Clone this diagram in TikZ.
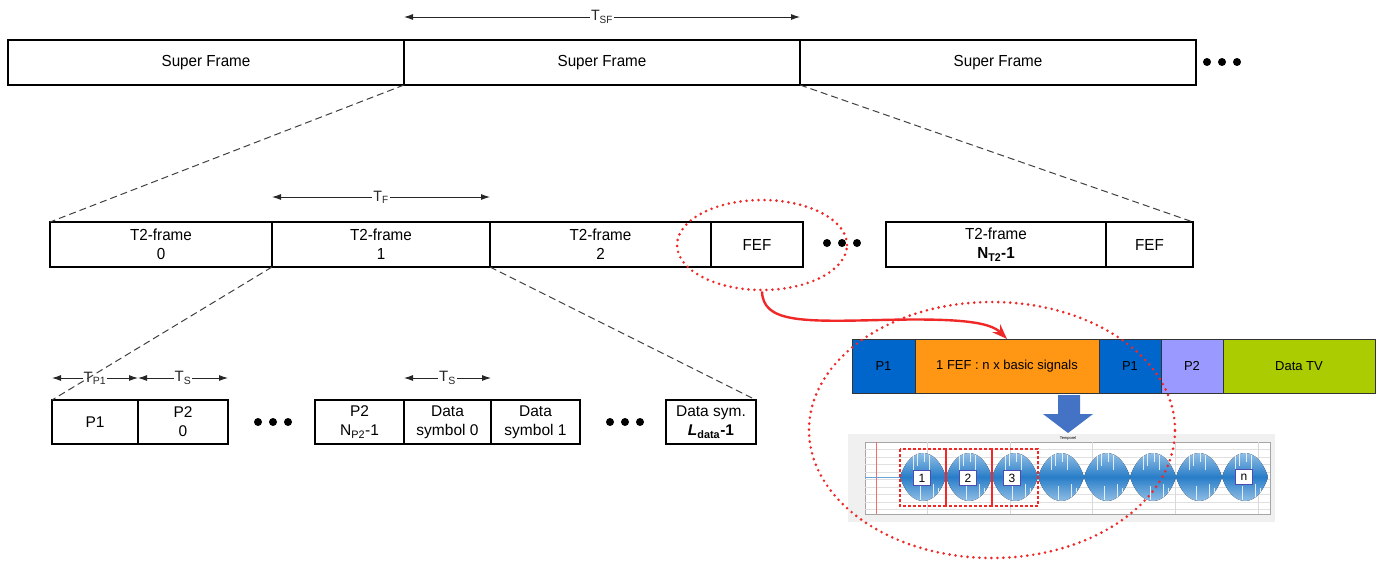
\documentclass[tikz,border=0pt]{standalone}
\usepackage{fontspec}
\setmainfont{Liberation Sans}
\newfontfamily\narrowfont[FakeStretch=0.95]{Liberation Sans}
\usetikzlibrary{arrows.meta,shapes.geometric}
\definecolor{dotred}{RGB}{240,40,40}
\definecolor{pblue}{RGB}{0,102,204}
\definecolor{forange}{RGB}{255,150,20}
\definecolor{plav}{RGB}{153,153,255}
\definecolor{dgreen}{RGB}{170,204,0}
\definecolor{barrow}{RGB}{68,114,196}
\definecolor{lobelight}{RGB}{185,215,240}
\definecolor{lobedark}{RGB}{40,125,200}
\tikzset{
  box/.style={draw, line width=1.1pt, inner sep=0pt, outer sep=0pt, align=center},
  toprow/.style={box, minimum height=45pt, font=\narrowfont\fontsize{16}{19}\selectfont},
  botrow/.style={box, minimum height=44pt, font=\fontsize{15.5}{19}\selectfont},
  cbox/.style={draw=black!80, line width=0.8pt, inner sep=0pt, outer sep=0pt, minimum height=54pt, font=\fontsize{13}{14}\selectfont},
  dotnode/.style={circle, fill=black, inner sep=0pt, minimum size=8pt},
  dimarr/.style={{Latex[length=9pt,width=6pt]}-{Latex[length=9pt,width=6pt]}, line width=0.9pt, black!85},
  dimlab/.style={midway, fill=white, inner sep=1pt, font=\narrowfont\fontsize{15}{15}\selectfont},
  dimlabb/.style={midway, fill=white, inner sep=1pt, font=\fontsize{15}{15}\selectfont},
  zoomline/.style={dashed, dash pattern=on 7pt off 4pt, line width=1pt, black!75},
  reddot/.style={draw=dotred, line width=2.9pt, dash pattern=on 0pt off 6pt, line cap=round},
  redarrow/.style={draw=dotred, line width=2.4pt, -{Stealth[length=15pt,width=11pt]}},
  numbox/.style={draw=blue!40!gray, fill=white, line width=0.8pt, minimum width=17pt, minimum height=15pt, inner sep=0pt, font=\fontsize{12}{12}\selectfont},
  dashbox/.style={draw=dotred, dashed, dash pattern=on 3pt off 2pt, line width=1.1pt}
}
\begin{document}
\begin{tikzpicture}[x=1pt,y=-1pt]
\useasboundingbox (0,0) rectangle (1380,560);

% ---------- top row ----------
\node[toprow, minimum width=396pt] (sf1) at (206,62.5) {Super Frame};
\node[toprow, minimum width=396pt] (sf2) at (602,62.5) {Super Frame};
\node[toprow, minimum width=396pt] (sf3) at (998,62.5) {Super Frame};
\node[dotnode] (d1a) at (1207,62) {};
\node[dotnode] (d1b) at (1222,62) {};
\node[dotnode] (d1c) at (1237,62) {};
\draw[dimarr] ([yshift=23pt]sf2.north west) -- ([yshift=23pt]sf2.north east)
  node[dimlab] {T\textsubscript{SF}};

% ---------- middle row ----------
\node[toprow, minimum width=222pt] (t0) at (161,244.5) {T2-frame\\0};
\node[toprow, minimum width=218pt] (t1) at (381,244.5) {T2-frame\\1};
\node[toprow, minimum width=221pt] (t2) at (600.5,244.5) {T2-frame\\2};
\node[toprow, minimum width=92pt] (fef1) at (757,244.5) {FEF};
\node[dotnode] (d2a) at (827,243) {};
\node[dotnode] (d2b) at (842,243) {};
\node[dotnode] (d2c) at (857,243) {};
\node[toprow, minimum width=220pt] (tn) at (996,244.5) {T2-frame\\\textbf{N\textsubscript{T2}-1}};
\node[toprow, minimum width=87pt] (fef2) at (1149.5,244.5) {FEF};
\draw[dimarr] ([yshift=25pt]t1.north west) -- ([yshift=25pt]t1.north east)
  node[dimlab] {T\textsubscript{F}};
\draw[zoomline] (sf2.south west) -- (t0.north west);
\draw[zoomline] (sf2.south east) -- (fef2.north east);

% ---------- bottom row ----------
\node[botrow, minimum width=86pt] (p1) at (95,422) {P1};
\node[botrow, minimum width=90pt] (p20) at (183,422) {P2\\0};
\node[dotnode] (d3a) at (258,422) {};
\node[dotnode] (d3b) at (273,422) {};
\node[dotnode] (d3c) at (288,422) {};
\node[botrow, minimum width=89pt] (p2n) at (359.5,422) {P2\\N\textsubscript{P2}-1};
\node[botrow, minimum width=87pt] (ds0) at (447.5,422) {Data\\symbol 0};
\node[botrow, minimum width=89pt] (ds1) at (535.5,422) {Data\\symbol 1};
\node[dotnode] (d4a) at (610,422) {};
\node[dotnode] (d4b) at (625,422) {};
\node[dotnode] (d4c) at (640,422) {};
\node[botrow, minimum width=90pt] (dsl) at (711,422) {Data sym.\\\textbf{\textit{L}\textsubscript{data}-1}};
\draw[dimarr] ([yshift=22pt]p1.north west) -- ([yshift=22pt]p1.north east)
  node[dimlabb] {T\textsubscript{P1}};
\draw[dimarr] ([yshift=22pt]p20.north west) -- ([yshift=22pt]p20.north east)
  node[dimlabb] {T\textsubscript{S}};
\draw[dimarr] ([yshift=22pt]ds0.north west) -- ([yshift=22pt]ds0.north east)
  node[dimlabb] {T\textsubscript{S}};
\draw[zoomline] (t1.south west) -- (p1.north west);
\draw[zoomline] (t1.south east) -- (dsl.north east);

% ---------- plot ----------
\fill[black!6] (848,434) rectangle (1275,522);
\filldraw[fill=white, draw=black!35, line width=0.5pt] (865,442) rectangle (1270,514);
\foreach \gy in {449.5,457,464.5,472,479.5,487,494.5,502,509.5}
  \draw[black!12, line width=0.4pt] (865,\gy) -- (1270,\gy);
\foreach \gx in {927,1010,1092,1175,1258}
  \draw[black!15, line width=0.4pt] (\gx,442) -- (\gx,514);
\node[font=\fontsize{4}{4}\selectfont] (ptitle) at (1068,438) {Temporel};
\draw[dotred!70, line width=0.6pt] (876,442) -- (876,514);
\draw[lobedark!70, line width=0.8pt] (865,477) -- (900,477);
\foreach \i in {0,...,7} {
  \pgfmathsetmacro\xa{900+46*\i}
  \begin{scope}
    \clip (\xa,477) .. controls (\xa+10,445) and (\xa+36,445) .. (\xa+46,477)
      .. controls (\xa+36,509) and (\xa+10,509) .. (\xa,477) -- cycle;
    \fill[top color=lobelight, bottom color=lobelight, middle color=lobedark]
      (\xa,444) rectangle (\xa+46,510);
    \foreach \s/\a/\b in {13/450/470,17/452/466,24/450/462,29/455/470,33/484/503,20/486/500,38/488/498}
      \draw[white, line width=0.7pt, opacity=0.8] (\xa+\s,\a) -- (\xa+\s,\b);
  \end{scope}
}
\draw[dashbox] (900,449) rectangle (946,506);
\draw[dashbox] (946,449) rectangle (992,506);
\draw[dashbox] (992,449) rectangle (1038,506);
\node[numbox] (n1) at (922,478) {1};
\node[numbox] (n2) at (968,478) {2};
\node[numbox] (n3) at (1012,478) {3};
\node[numbox] (nn) at (1244,477) {n};

% ---------- coloured bar ----------
\node[cbox, fill=pblue, minimum width=63pt] (cp1) at (883.5,366) {P1};
\node[cbox, fill=forange, minimum width=184pt] (cfef) at (1007,366) {1 FEF : n x basic signals};
\node[cbox, fill=pblue, minimum width=62pt] (cp1b) at (1130,366) {P1};
\node[cbox, fill=plav, minimum width=62pt] (cp2) at (1192,366) {P2};
\node[cbox, fill=dgreen, minimum width=152pt] (cdata) at (1299,366) {Data TV};

% blue down arrow
\fill[barrow] (1058,395) -- (1080,395) -- (1080,414) -- (1093,414) -- (1068,433)
  -- (1043,414) -- (1058,414) -- cycle;

% ---------- red highlights ----------
\node[ellipse, reddot, minimum width=170pt, minimum height=90pt, inner sep=0pt] (fefring) at (762,245) {};
\node[ellipse, reddot, minimum width=366pt, minimum height=256pt, inner sep=0pt] (zoomring) at (992,430) {};
\draw[redarrow] (fefring.south) .. controls (763,322) and (800,322) .. (880,320)
  .. controls (960,318) and (990,322) .. (cfef.north);
\end{tikzpicture}
\end{document}
